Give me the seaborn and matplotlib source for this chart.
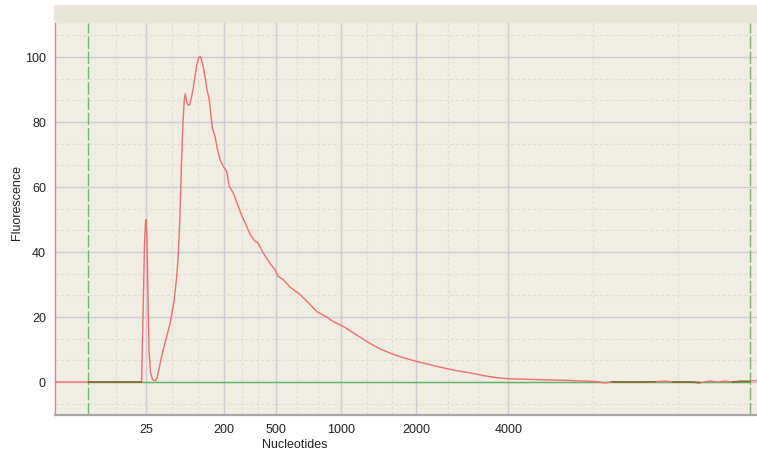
import matplotlib.pyplot as plt
import matplotlib.patches as patches
import numpy as np
import pandas as pd
import seaborn as sns

# migration time (s) and fluorescence
time_s = [17.00, 19.50, 20.38, 23.49, 23.60, 23.71, 23.79, 23.84, 23.90, 23.98,
          24.05, 24.16, 24.31, 24.50, 24.65, 24.80, 25.00, 25.25, 25.63, 25.93,
          26.13, 26.26, 26.38, 26.49, 26.60, 26.70, 26.77, 26.86, 26.98, 27.09,
          27.20, 27.35, 27.50, 27.65, 27.80, 27.91, 28.03, 28.12, 28.25, 28.40,
          28.57, 28.70, 28.80, 29.00, 29.19, 29.38, 29.60, 29.88, 30.07, 30.37,
          30.75, 31.03, 31.38, 31.63, 32.00, 32.23, 32.62, 33.13, 33.50, 33.73,
          34.12, 34.63, 35.38, 35.98, 36.63, 37.25, 37.87, 38.62, 39.50, 40.38,
          41.00, 41.38, 42.13, 42.88, 43.87, 44.75, 45.63, 46.63, 47.38, 48.13,
          49.25, 50.00, 51.00, 52.63, 55.38, 56.00, 56.75, 57.73, 58.25, 58.78,
          59.75, 60.88, 62.00, 62.75, 63.28, 64.63, 65.38, 66.13, 66.73, 67.25,
          67.78, 68.38, 69.13, 69.65]
fluorescence = [0.0, 0.0, 0.0, 0.0, 20.0, 42.0, 49.5, 50.0, 44.0, 25.0,
                10.0, 3.0, 0.8, 0.3, 1.2, 4.0, 8.0, 12.0, 18.0, 25.0,
                32.5, 40.0, 52.0, 68.0, 80.0, 87.0, 88.7, 86.5, 85.2, 85.3,
                87.0, 90.0, 94.0, 98.0, 100.0, 100.2, 98.5, 97.0, 94.0, 90.0,
                86.9, 82.0, 78.2, 75.6, 71.5, 68.4, 66.5, 64.8, 60.2, 58.2,
                54.0, 51.0, 47.9, 45.5, 43.3, 42.8, 39.7, 36.5, 34.6, 32.5,
                31.5, 29.2, 26.9, 24.5, 21.7, 20.3, 18.6, 17.1, 14.8, 12.5,
                11.0, 10.2, 8.9, 7.8, 6.6, 5.7, 4.8, 3.9, 3.3, 2.8,
                1.9, 1.4, 1.0, 0.8, 0.5, 0.4, 0.3, 0.1, -0.3, 0.1,
                0.0, 0.0, 0.1, 0.3, 0.0, 0.0, -0.2, 0.3, 0.0, 0.3,
                0.0, 0.2, 0.2, 0.5]

# ladder sizes and where they sit on the time axis
size_labels = ["25", "200", "500", "1000", "2000", "4000"]
size_times = [23.83, 29.68, 33.59, 38.45, 44.08, 51.00]
minor_times = [21.55, 25.78, 27.76, 31.00, 32.26, 35.13, 36.75, 40.38,
               42.25, 46.45, 48.70, 57.37, 63.70]
marker_times = [19.50, 69.13]

df = pd.DataFrame({"time": time_s, "fluor": fluorescence})

sns.set_style("white")
plt.rcParams["font.family"] = ["Liberation Sans", "DejaVu Sans"]

fig = plt.figure(figsize=(7.57, 4.57), dpi=100)
ax = fig.add_axes([55 / 757, 42.5 / 457, 702 / 757, 391.5 / 457])
ax.set_facecolor("#f0ede3")

# darker band above the plotting area
fig.patches.append(patches.Rectangle(
    (54 / 757, 434 / 457), 703 / 757, 18 / 457, transform=fig.transFigure,
    facecolor="#ebe7d8", edgecolor="none", zorder=0))

# baseline between the markers and the marker lines
ax.hlines(0, marker_times[0], marker_times[1], color="#5cb85c", lw=1.0, zorder=2)
for mt in marker_times:
    ax.axvline(mt, color="#6cbc6c", lw=1.0, ls=(0, (9, 2)), zorder=2)

sns.lineplot(data=df, x="time", y="fluor", ax=ax, color="#f26d6d", lw=1.0,
             sort=False, zorder=3)

# where the trace lies on the baseline it shows darker
on_base = (df["fluor"].abs() <= 0.2) & (df["time"] >= marker_times[0]) & (df["time"] <= marker_times[1])
ax.plot(df["time"], df["fluor"].where(on_base), color="#7a6a2c", lw=1.1, zorder=4)

ax.set_yticks([0, 20, 40, 60, 80, 100])
ax.set_yticks([v for v in np.arange(-20, 120, 20 / 3)
               if round(v) % 20 != 0 and -10 < v < 110], minor=True)
ax.set_xticks(size_times)
ax.set_xticklabels(size_labels)
ax.set_xticks(minor_times, minor=True)

ax.set_xlim(17.0, 69.65)
ax.set_ylim(-10, 110.5)

ax.grid(which="major", color="#cbccd5", lw=1.0, ls="-")
ax.grid(which="minor", color="#dfdcd3", lw=0.8, ls=(0, (3, 2)))
ax.set_axisbelow(True)

ax.tick_params(axis="y", which="major", length=3.5, width=1, color="#f08080",
               pad=3, labelsize=9, labelcolor="#222222")
ax.tick_params(axis="x", which="major", length=3.5, width=1, color="#b0b0b0",
               pad=3, labelsize=9, labelcolor="#222222")
ax.tick_params(which="minor", length=0)

for side in ["top", "right"]:
    ax.spines[side].set_visible(False)
ax.spines["left"].set_color("#f08080")
ax.spines["left"].set_linewidth(1.0)
ax.spines["bottom"].set_color("#a8a8a8")
ax.spines["bottom"].set_linewidth(1.6)

ax.set_xlabel("Nucleotides", fontsize=9, color="#222222")
ax.set_ylabel("Fluorescence", fontsize=9, color="#222222")
ax.xaxis.set_label_coords(0.342, -0.062)
ax.yaxis.set_label_coords(-0.045, 0.5415)

fig.savefig("out.png", dpi=100)
